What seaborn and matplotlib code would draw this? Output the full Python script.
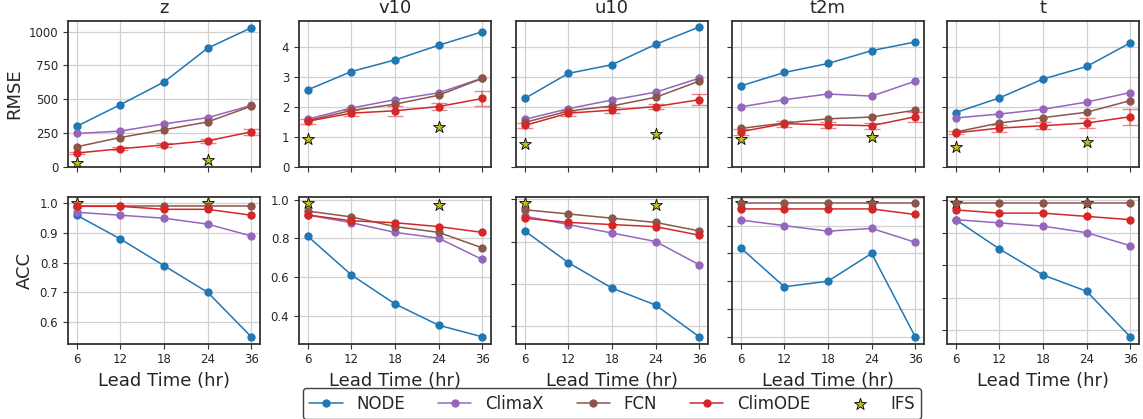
"""
RMSE / ACC vs lead time for the five variables, NODE vs ClimaX vs FCN vs ClimODE vs IFS.
"""

import matplotlib
matplotlib.use("Agg")
import matplotlib.pyplot as plt
from matplotlib.ticker import MultipleLocator
import seaborn as sns

lead_times = ["6", "12", "18", "24", "36"]
ifs_times = ["6", "24"]
variables = ["z", "v10", "u10", "t2m", "t"]
models = ["NODE", "ClimaX", "FCN", "ClimODE"]
colors = {"NODE": "tab:blue", "ClimaX": "tab:purple", "FCN": "tab:brown", "ClimODE": "tab:red"}

# RMSE (top row)
rmse_node = {
    "z": [300.6, 460.2, 627.6, 877.8, 1028.2],
    "v10": [2.58, 3.19, 3.58, 4.07, 4.52],
    "u10": [2.29, 3.13, 3.42, 4.10, 4.68],
    "t2m": [2.71, 3.16, 3.46, 3.89, 4.18],
    "t": [1.82, 2.31, 2.94, 3.36, 4.15],
}
rmse_climax = {
    "z": [247.5, 265.3, 318.3, 364.3, 455.0],
    "v10": [1.60, 1.97, 2.25, 2.48, 2.97],
    "u10": [1.59, 1.95, 2.24, 2.50, 2.97],
    "t2m": [2.01, 2.25, 2.44, 2.37, 2.87],
    "t": [1.64, 1.77, 1.93, 2.17, 2.49],
}
rmse_fcn = {
    "z": [149.4, 217.8, 275.0, 333.0, 449.0],
    "v10": [1.55, 1.89, 2.10, 2.40, 2.96],
    "u10": [1.49, 1.87, 2.04, 2.33, 2.87],
    "t2m": [1.29, 1.47, 1.61, 1.67, 1.90],
    "t": [1.17, 1.47, 1.65, 1.83, 2.22],
}
rmse_climode = {
    "z": [102.9, 134.8, 162.7, 193.4, 259.6],
    "v10": [1.53, 1.80, 1.88, 2.02, 2.29],
    "u10": [1.39, 1.80, 1.90, 2.02, 2.25],
    "t2m": [1.18, 1.45, 1.41, 1.38, 1.68],
    "t": [1.14, 1.30, 1.38, 1.47, 1.68],
}
rmse_climode_err = {
    "z": [9.3, 12.3, 14.4, 16.3, 22.3],
    "v10": [0.08, 0.10, 0.16, 0.11, 0.24],
    "u10": [0.07, 0.08, 0.09, 0.08, 0.18],
    "t2m": [0.10, 0.10, 0.10, 0.10, 0.16],
    "t": [0.05, 0.12, 0.11, 0.18, 0.26],
}
rmse_ifs = {
    "z": [26.9, 51.0],
    "v10": [0.92, 1.33],
    "u10": [0.77, 1.10],
    "t2m": [0.95, 1.01],
    "t": [0.67, 0.84],
}

# ACC (bottom row)
acc_node = {
    "z": [0.96, 0.88, 0.79, 0.70, 0.55],
    "v10": [0.81, 0.61, 0.46, 0.35, 0.29],
    "u10": [0.85, 0.70, 0.58, 0.50, 0.35],
    "t2m": [0.91, 0.84, 0.85, 0.90, 0.75],
    "t": [0.94, 0.85, 0.77, 0.72, 0.58],
}
acc_climax = {
    "z": [0.97, 0.96, 0.95, 0.93, 0.89],
    "v10": [0.92, 0.88, 0.83, 0.80, 0.69],
    "u10": [0.92, 0.88, 0.84, 0.80, 0.69],
    "t2m": [0.96, 0.95, 0.94, 0.945, 0.92],
    "t": [0.94, 0.93, 0.92, 0.90, 0.86],
}
acc_fcn = {
    "z": [0.99, 0.99, 0.99, 0.99, 0.99],
    "v10": [0.94, 0.91, 0.86, 0.83, 0.75],
    "u10": [0.95, 0.93, 0.91, 0.89, 0.85],
    "t2m": [0.99, 0.99, 0.99, 0.99, 0.99],
    "t": [0.99, 0.99, 0.99, 0.99, 0.99],
}
acc_climode = {
    "z": [0.99, 0.99, 0.98, 0.98, 0.96],
    "v10": [0.92, 0.89, 0.88, 0.86, 0.83],
    "u10": [0.91, 0.89, 0.88, 0.87, 0.83],
    "t2m": [0.98, 0.98, 0.98, 0.98, 0.97],
    "t": [0.97, 0.96, 0.96, 0.95, 0.94],
}
acc_ifs = {
    "z": [1.0, 1.0],
    "v10": [0.98, 0.97],
    "u10": [0.98, 0.97],
    "t2m": [0.99, 0.99],
    "t": [0.99, 0.99],
}

rmse = {"NODE": rmse_node, "ClimaX": rmse_climax, "FCN": rmse_fcn, "ClimODE": rmse_climode}
acc = {"NODE": acc_node, "ClimaX": acc_climax, "FCN": acc_fcn, "ClimODE": acc_climode}

sns.set_style("ticks", {"axes.grid": True, "grid.color": ".82", "axes.edgecolor": ".2"})
plt.rcParams["font.family"] = ["DejaVu Sans"]
plt.rcParams["axes.linewidth"] = 1.3

fig, axes = plt.subplots(2, 5, figsize=(11.43, 4.19), dpi=100)
for j in range(2, 5):
    axes[0, j].sharey(axes[0, 1])

W, H = 1143, 419
lefts = [68, 299, 516, 732, 947]
width = 192
for j in range(5):
    axes[0, j].set_position([lefts[j] / W, 1 - 167 / H, width / W, 146 / H])
    axes[1, j].set_position([lefts[j] / W, 1 - 343.5 / H, width / W, 146.8 / H])


def draw_panel(ax, values, ifs_vals, err=None):
    for m in models:
        sns.lineplot(x=lead_times, y=values[m], ax=ax, color=colors[m], marker="o",
                     markersize=6, markeredgewidth=0, linewidth=1.1, sort=False, label=m)
    if err is not None:
        ax.errorbar(lead_times, values["ClimODE"], yerr=err, fmt="none",
                    ecolor="tab:red", alpha=0.55, capsize=6, elinewidth=1.1)
    sns.scatterplot(x=ifs_times, y=ifs_vals, ax=ax, marker="*", s=80, color="#bfbf1a",
                    edgecolor="black", linewidth=0.6, zorder=1.8, label="IFS")
    ax.get_legend().remove()
    ax.grid(True, color=".82", linewidth=0.9)
    ax.set_xlabel("")
    ax.set_ylabel("")
    ax.tick_params(labelsize=8.5, length=3.5, color=".2")


for j, var in enumerate(variables):
    ax = axes[0, j]
    draw_panel(ax, {m: rmse[m][var] for m in models}, rmse_ifs[var], rmse_climode_err[var])
    ax.set_title(var, fontsize=13)
    ax.tick_params(labelbottom=False)

    ax = axes[1, j]
    draw_panel(ax, {m: acc[m][var] for m in models}, acc_ifs[var])
    ax.set_xlabel("Lead Time (hr)", fontsize=13)
    if j >= 2:
        axes[0, j].tick_params(labelleft=False)
        ax.tick_params(labelleft=False)

axes[0, 0].set_ylim(bottom=0)
axes[0, 0].yaxis.set_major_locator(MultipleLocator(250))
axes[0, 1].set_ylim(bottom=0)
axes[0, 0].set_ylabel("RMSE", fontsize=13)
axes[1, 0].set_ylabel("ACC", fontsize=13)

handles, labels = axes[0, 0].get_legend_handles_labels()
fig.legend(handles, labels, loc="upper center", bbox_to_anchor=(612 / W, 1 - 388 / H),
           ncol=5, fontsize=12, frameon=True, edgecolor=".25", framealpha=1,
           columnspacing=2.0, borderaxespad=0)

fig.savefig("out.png", dpi=100)
plt.close(fig)
